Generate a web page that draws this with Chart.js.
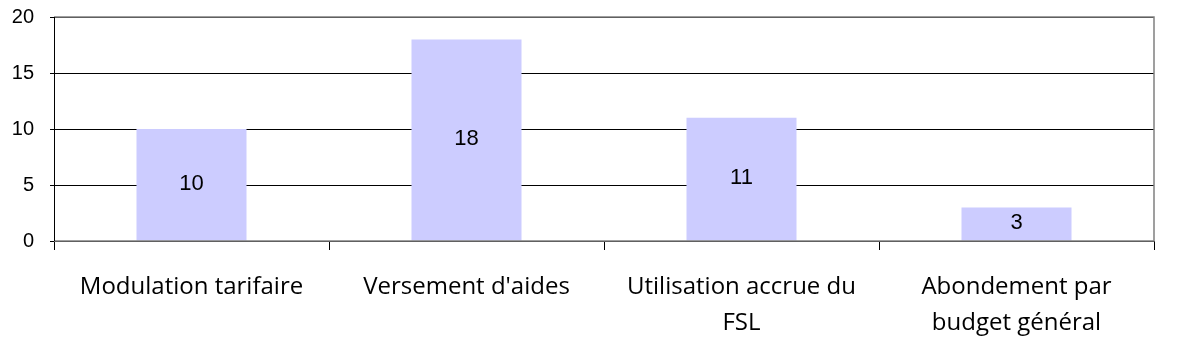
<!DOCTYPE html>
<html>
<head>
<meta charset="utf-8">
<script src="https://cdn.jsdelivr.net/npm/chart.js@4"></script>
<style>
html,body{margin:0;padding:0;background:#fff;}
#wrap{width:1181px;height:357px;position:relative;}
</style>
</head>
<body>
<div id="wrap"><canvas id="c"></canvas></div>
<script>
const categories = [
  ["Modulation tarifaire"],
  ["Versement d'aides"],
  ["Utilisation accrue du", "FSL"],
  ["Abondement par", "budget général"]
];
const values = [10, 18, 11, 3];
const yTicks = [0, 5, 10, 15, 20];

const valueLabels = {
  id: 'valueLabels',
  afterDatasetsDraw(chart) {
    const ctx = chart.ctx;
    const meta = chart.getDatasetMeta(0);
    ctx.save();
    ctx.font = '22px "Liberation Sans", Arial, sans-serif';
    ctx.fillStyle = '#000';
    ctx.textAlign = 'center';
    ctx.textBaseline = 'middle';
    meta.data.forEach((bar, i) => {
      const p = bar.getProps(['x', 'y', 'base'], true);
      ctx.fillText(String(values[i]), p.x, (p.y + p.base) / 2 - 1);
    });
    ctx.restore();
  }
};

const frame = {
  id: 'frame',
  afterDraw(chart) {
    const a = chart.chartArea;
    const ctx = chart.ctx;
    ctx.save();
    ctx.strokeStyle = '#808080';
    ctx.lineWidth = 1.5;
    ctx.beginPath();
    ctx.moveTo(a.left, a.top);
    ctx.lineTo(a.right, a.top);
    ctx.lineTo(a.right, a.bottom);
    ctx.lineTo(a.left, a.bottom);
    ctx.stroke();
    ctx.strokeStyle = '#000';
    ctx.lineWidth = 1;
    ctx.beginPath();
    ctx.moveTo(a.left + 0.5, a.top);
    ctx.lineTo(a.left + 0.5, a.bottom);
    ctx.stroke();
    ctx.restore();
  }
};

new Chart(document.getElementById('c'), {
  type: 'bar',
  data: {
    labels: categories,
    datasets: [{
      data: values,
      backgroundColor: '#CCCCFF',
      borderWidth: 0,
      barPercentage: 0.4,
      categoryPercentage: 1.0
    }]
  },
  options: {
    responsive: true,
    maintainAspectRatio: false,
    animation: false,
    layout: { padding: { top: 17, right: 27, left: 0, bottom: 0 } },
    plugins: { legend: { display: false }, tooltip: { enabled: false } },
    scales: {
      x: {
        offset: true,
        grid: {
          offset: true,
          drawOnChartArea: false,
          drawTicks: true,
          tickLength: 9,
          color: '#000'
        },
        border: { display: false },
        ticks: {
          color: '#000',
          padding: 19,
          maxRotation: 0,
          autoSkip: false,
          font: { family: '"Open Sans", sans-serif', size: 24, lineHeight: 1.5 }
        },
        afterFit(scale) {
          scale.height = 116;
          scale.paddingLeft = 0; scale.paddingRight = 0;
        }
      },
      y: {
        min: 0,
        max: 20,
        afterBuildTicks(scale) { scale.ticks = yTicks.map(v => ({ value: v })); },
        grid: {
          color: '#000',
          lineWidth: 1,
          drawTicks: true,
          tickLength: 4
        },
        border: { display: false },
        ticks: {
          color: '#000',
          padding: 16,
          font: { family: '"Liberation Sans", Arial, sans-serif', size: 20 }
        },
        afterFit(scale) {
          scale.width = 54;
          scale.paddingTop = 0; scale.paddingBottom = 0;
        }
      }
    }
  },
  plugins: [valueLabels, frame]
});
</script>
</body>
</html>
